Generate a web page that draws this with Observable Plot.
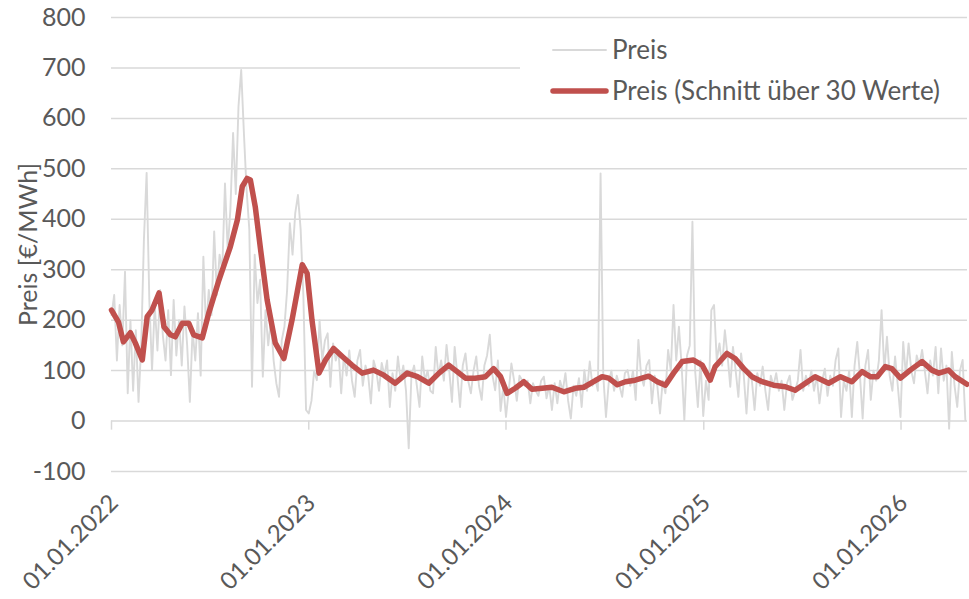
<!DOCTYPE html>
<html>
<head>
<meta charset="utf-8">
<script src="https://cdn.jsdelivr.net/npm/d3@7"></script>
<script src="https://cdn.jsdelivr.net/npm/@observablehq/plot@0.6"></script>
<style>
  html, body { margin: 0; padding: 0; background: #ffffff; }
  #chart { width: 969px; height: 599px; }
</style>
</head>
<body>
<div id="chart"></div>
<script>
// ---------- data ----------
const yTicks = [-100, 0, 100, 200, 300, 400, 500, 600, 700, 800];
const xTickDates = ["2022-01-01", "2023-01-01", "2024-01-01", "2025-01-01", "2026-01-01"];
const xTickLabels = ["01.01.2022", "01.01.2023", "01.01.2024", "01.01.2025", "01.01.2026"];
const xDomain = ["2022-01-01", "2026-05-04"];
const yTitle = "Preis [€/MWh]";
const seriesNames = ["Preis", "Preis (Schnitt über 30 Werte)"];

// daily price, sampled every 5 days starting 2022-01-01
const priceStart = "2022-01-01";
const priceStepDays = 5;
const priceValues = [
  210,250,120,230,150,296,55,200,60,180,38,150,
  360,492,240,101,230,140,260,170,120,220,91,240,130,200,110,227,150,38,180,120,214,90,
  326,180,260,210,376,250,330,300,471,340,420,571,450,624,696,571,458,380,68,330,234,280,88,220,150,200,120,75,48,160,187,
  260,392,330,412,448,380,250,22,15,40,100,81,200,120,160,174,68,154,120,140,55,130,
  90,140,80,48,120,141,70,110,90,35,120,100,60,115,90,120,28,95,60,128,80,110,60,
  -54,90,110,70,28,128,80,100,60,55,147,90,120,80,151,100,38,147,90,28,110,
  134,80,55,100,128,70,42,110,130,171,90,61,120,20,70,8,
  60,114,80,40,90,81,70,80,35,75,60,50,80,88,45,70,22,75,35,80,60,95,40,5,70,50,85,28,101,60,118,70,85,60,
  491,90,8,75,100,60,90,70,48,95,101,70,100,42,161,90,70,110,121,35,90,70,15,80,
  55,141,100,230,120,187,110,2,130,150,395,100,28,120,10,
  80,42,220,230,120,154,110,180,130,68,147,100,48,134,90,
  15,100,80,22,95,70,108,60,22,90,70,95,60,80,22,75,90,42,
  60,80,141,60,90,70,100,60,90,35,80,104,50,90,70,121,144,8,80,60,
  100,8,110,157,90,5,110,141,42,100,80,120,220,100,167,90,
  60,128,70,8,157,90,
  154,100,75,130,110,141,100,55,120,90,147,
  55,144,80,110,-15,137,70,28,100,121,2
];

// 30-value moving average (red line)
const avgDates = [
  "2022-01-01","2022-01-14","2022-01-23","2022-02-05","2022-02-14","2022-02-27","2022-03-08","2022-03-17","2022-03-30",
  "2022-04-08","2022-04-20","2022-04-29","2022-05-12","2022-05-24","2022-06-02","2022-06-18","2022-06-30","2022-07-19",
  "2022-08-09","2022-08-22","2022-08-31","2022-09-09","2022-09-15","2022-09-24","2022-10-04","2022-10-16","2022-10-31",
  "2022-11-16","2022-12-01","2022-12-20","2022-12-29","2023-01-07","2023-01-20","2023-02-01","2023-02-16","2023-03-04",
  "2023-03-22","2023-04-10","2023-05-01","2023-05-20","2023-06-10","2023-07-02","2023-07-21","2023-08-11","2023-08-30",
  "2023-09-17","2023-09-29","2023-10-18","2023-11-05","2023-11-24","2023-12-09","2023-12-22","2024-01-03","2024-01-18",
  "2024-02-03","2024-02-18","2024-03-08","2024-03-26","2024-04-17","2024-05-08","2024-05-24","2024-06-11","2024-06-27",
  "2024-07-09","2024-07-25","2024-08-09","2024-08-27","2024-09-21","2024-10-07","2024-10-22","2024-11-06","2024-11-22",
  "2024-12-13","2024-12-29","2025-01-13","2025-01-22","2025-02-13","2025-02-28","2025-03-16","2025-03-31","2025-04-19",
  "2025-05-10","2025-06-01","2025-06-19","2025-07-08","2025-07-26","2025-08-20","2025-09-11","2025-10-02","2025-10-21",
  "2025-11-05","2025-11-18","2025-12-03","2025-12-15","2025-12-31","2026-01-18","2026-02-09","2026-02-27","2026-03-12",
  "2026-03-30","2026-04-11","2026-05-03"
];
const avgValues = [
  220,196,157,175,155,121,207,220,254,
  187,171,167,194,194,171,165,214,280,
  346,399,465,481,478,425,339,240,155,
  124,200,310,293,200,95,121,144,128,
  111,95,101,91,75,95,88,75,95,
  111,101,85,85,88,104,88,55,65,
  78,63,65,67,58,65,67,78,88,
  85,72,78,81,89,78,71,95,118,
  121,111,81,108,134,124,104,88,78,
  71,68,61,75,88,75,88,78,98,
  88,88,108,104,85,101,118,101,95,
  101,88,73
];

// ---------- build tables ----------
const parse = d3.utcParse("%Y-%m-%d");
const price = priceValues.map((v, i) => ({date: d3.utcDay.offset(parse(priceStart), i * priceStepDays), value: v}));
const avg = avgDates.map((d, i) => ({date: parse(d), value: avgValues[i]}));
const xt = xTickDates.map((d, i) => ({date: parse(d), label: xTickLabels[i]}));

const FONT = "Lato, 'Open Sans', sans-serif";
const GRID = "#d9d9d9";
const TEXT = "#595959";
const GRAY = "#d9d9d9";
const RED = "#c0504d";

const plot = Plot.plot({
  width: 969,
  height: 599,
  marginLeft: 111,
  marginRight: 2,
  marginTop: 17,
  marginBottom: 128,
  style: {fontFamily: FONT, fontSize: "25px", color: TEXT, background: "#ffffff", overflow: "visible"},
  x: {type: "utc", domain: xDomain.map(parse), axis: null},
  y: {domain: [-100, 800], axis: null},
  marks: [
    Plot.ruleY(yTicks, {stroke: GRID, strokeWidth: 1.5}),
    Plot.ruleX(xt, {x: "date", y1: -18, y2: 0, stroke: GRID, strokeWidth: 1.5}),
    Plot.line(price, {x: "date", y: "value", stroke: GRAY, strokeWidth: 1.9}),
    Plot.line(avg, {x: "date", y: "value", stroke: RED, strokeWidth: 5.5, strokeLinejoin: "round", strokeLinecap: "round"}),
    Plot.text(yTicks, {frameAnchor: "left", y: d => d, text: d => String(d), textAnchor: "end", dx: -26, fill: TEXT, fontSize: 25}),
    Plot.text(xt, {x: "date", frameAnchor: "bottom", text: "label", rotate: -45, textAnchor: "end", lineAnchor: "bottom", dx: 8, dy: 33, fill: TEXT, fontSize: 24}),
    Plot.text([yTitle], {frameAnchor: "left", text: d => d, rotate: -90, textAnchor: "middle", lineAnchor: "middle", dx: -83, fill: TEXT, fontSize: 25})
  ]
});

// ---------- legend (inside plot, top right) ----------
const svg = d3.select(plot);
const lg = svg.append("g")
  .attr("font-family", FONT).attr("font-size", 26).attr("fill", TEXT).attr("text-anchor", "start");
lg.append("rect").attr("x", 520).attr("y", 27).attr("width", 447).attr("height", 86).attr("fill", "#ffffff");
const items = [
  {name: seriesNames[0], color: GRAY, w: 1.9, y: 50},
  {name: seriesNames[1], color: RED, w: 5.5, y: 91}
];
items.forEach(it => {
  lg.append("line").attr("x1", 553).attr("x2", 606).attr("y1", it.y).attr("y2", it.y)
    .attr("stroke", it.color).attr("stroke-width", it.w).attr("stroke-linecap", "round");
  lg.append("text").attr("x", 612).attr("y", it.y).attr("dy", "0.35em")
    .attr("text-anchor", "start").text(it.name);
});

document.getElementById("chart").appendChild(plot);
</script>
</body>
</html>
